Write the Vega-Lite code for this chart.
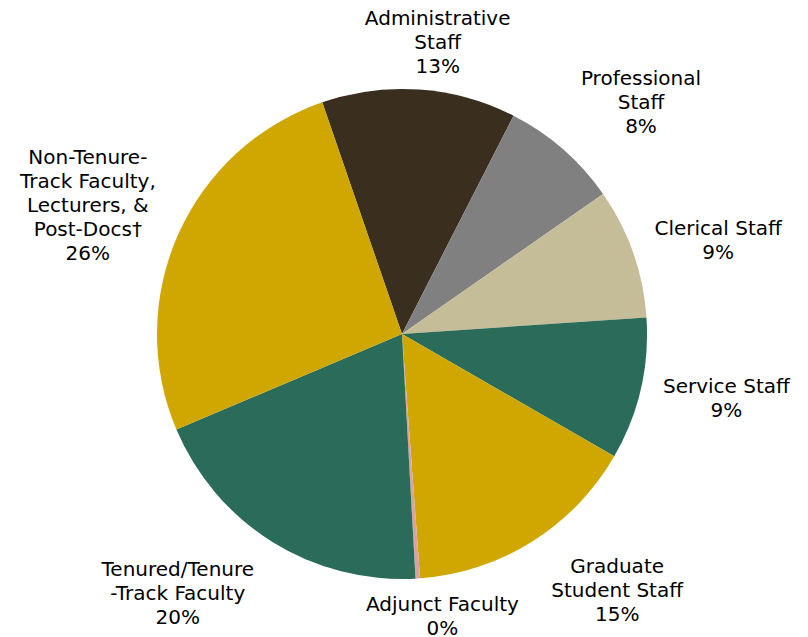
{
  "$schema": "https://vega.github.io/schema/vega-lite/v6.json",
  "width": 804,
  "height": 668,
  "autosize": {"type": "none"},
  "padding": 0,
  "background": "white",
  "config": {"view": {"stroke": null}},
  "data": {
    "values": [
      {"idx": 1, "category": "Administrative Staff", "value": 12.8, "label": "Administrative\nStaff\n13%"},
      {"idx": 2, "category": "Professional Staff", "value": 7.8, "label": "Professional\nStaff\n8%"},
      {"idx": 3, "category": "Clerical Staff", "value": 8.6, "label": "Clerical Staff\n9%"},
      {"idx": 4, "category": "Service Staff", "value": 9.4, "label": "Service Staff\n9%"},
      {"idx": 5, "category": "Graduate Student Staff", "value": 15.5, "label": "Graduate\nStudent Staff\n15%"},
      {"idx": 6, "category": "Adjunct Faculty", "value": 0.3, "label": "Adjunct Faculty\n0%"},
      {"idx": 7, "category": "Tenured/Tenure-Track Faculty", "value": 19.5, "label": "Tenured/Tenure\n-Track Faculty\n20%"},
      {"idx": 8, "category": "Non-Tenure-Track Faculty, Lecturers, & Post-Docs", "value": 26.1, "label": "Non-Tenure-\nTrack Faculty,\nLecturers, &\nPost-Docs†\n26%"}
    ]
  },
  "encoding": {
    "theta": {"field": "value", "type": "quantitative", "stack": true, "scale": {"range": [-0.3316, 5.9516]}},
    "order": {"field": "idx", "type": "quantitative"}
  },
  "layer": [
    {
      "mark": {"type": "arc", "outerRadius": 245, "stroke": null},
      "encoding": {
        "color": {
          "field": "category", "type": "nominal", "legend": null,
          "scale": {
            "domain": ["Administrative Staff", "Professional Staff", "Clerical Staff", "Service Staff", "Graduate Student Staff", "Adjunct Faculty", "Tenured/Tenure-Track Faculty", "Non-Tenure-Track Faculty, Lecturers, & Post-Docs"],
            "range": ["#3a2e1f", "#808080", "#c4bd97", "#2b6b59", "#cfa700", "#d9a3a3", "#2b6b59", "#cfa700"]
          }
        }
      }
    },
    {
      "mark": {"type": "text", "radius": 293, "dx": 15, "dy": -23, "font": "DejaVu Sans", "fontSize": 20, "lineHeight": 24, "lineBreak": "\n", "align": "center", "baseline": "middle", "color": "#000000"},
      "encoding": {"text": {"condition": {"test": "datum.idx === 1", "field": "label"}, "value": ""}}
    },
    {
      "mark": {"type": "text", "radius": 333, "dx": 20, "dy": -4, "font": "DejaVu Sans", "fontSize": 20, "lineHeight": 24, "lineBreak": "\n", "align": "center", "baseline": "middle", "color": "#000000"},
      "encoding": {"text": {"condition": {"test": "datum.idx === 2", "field": "label"}, "value": ""}}
    },
    {
      "mark": {"type": "text", "radius": 333, "dx": 2, "dy": 5, "font": "DejaVu Sans", "fontSize": 20, "lineHeight": 24, "lineBreak": "\n", "align": "center", "baseline": "middle", "color": "#000000"},
      "encoding": {"text": {"condition": {"test": "datum.idx === 3", "field": "label"}, "value": ""}}
    },
    {
      "mark": {"type": "text", "radius": 333, "dx": 0, "dy": -22, "font": "DejaVu Sans", "fontSize": 20, "lineHeight": 24, "lineBreak": "\n", "align": "center", "baseline": "middle", "color": "#000000"},
      "encoding": {"text": {"condition": {"test": "datum.idx === 4", "field": "label"}, "value": ""}}
    },
    {
      "mark": {"type": "text", "radius": 333, "dx": 38, "dy": -49, "font": "DejaVu Sans", "fontSize": 20, "lineHeight": 24, "lineBreak": "\n", "align": "center", "baseline": "middle", "color": "#000000"},
      "encoding": {"text": {"condition": {"test": "datum.idx === 5", "field": "label"}, "value": ""}}
    },
    {
      "mark": {"type": "text", "radius": 285, "dx": 22, "dy": -13, "font": "DejaVu Sans", "fontSize": 20, "lineHeight": 24, "lineBreak": "\n", "align": "center", "baseline": "middle", "color": "#000000"},
      "encoding": {"text": {"condition": {"test": "datum.idx === 6", "field": "label"}, "value": ""}}
    },
    {
      "mark": {"type": "text", "radius": 333, "dx": -48, "dy": -47, "font": "DejaVu Sans", "fontSize": 20, "lineHeight": 24, "lineBreak": "\n", "align": "center", "baseline": "middle", "color": "#000000"},
      "encoding": {"text": {"condition": {"test": "datum.idx === 7", "field": "label"}, "value": ""}}
    },
    {
      "mark": {"type": "text", "radius": 333, "dx": -10, "dy": -40, "font": "DejaVu Sans", "fontSize": 20, "lineHeight": 24, "lineBreak": "\n", "align": "center", "baseline": "middle", "color": "#000000"},
      "encoding": {"text": {"condition": {"test": "datum.idx === 8", "field": "label"}, "value": ""}}
    }
  ]
}
